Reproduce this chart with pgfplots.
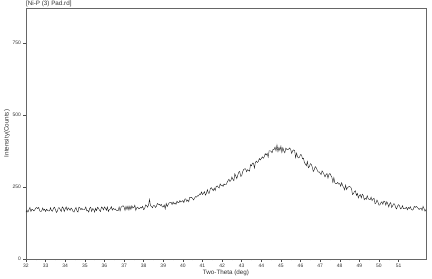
\documentclass[border=0pt]{standalone}
\usepackage{fontspec}
\setmainfont{Liberation Sans}
\usepackage{pgfplots}
\pgfplotsset{compat=1.18}
\begin{document}
\begin{tikzpicture}
\begin{axis}[
  scale only axis,
  width=400bp, height=251bp,
  xmin=32, xmax=52.4, ymin=0, ymax=872,
  xtick={32,33,...,51},
  ytick={0,250,500,750},
  minor x tick num=1,
  tick align=outside,
  xtick pos=bottom, ytick pos=left,
  major tick length=2.5bp, minor tick length=1.5bp,
  every tick/.style={black!70, line width=0.4pt},
  axis line style={black!60, line width=0.6pt},
  tick label style={font=\fontsize{5}{6}\selectfont, text=black!80},
  /pgf/number format/assume math mode=true,
  xticklabel style={yshift=1bp},
  yticklabel style={xshift=1bp},
  xlabel={Two-Theta (deg)},
  ylabel={Intensity(Counts)},
  label style={font=\fontsize{6.3}{7}\selectfont, text=black!80},
  xlabel style={yshift=4bp},
  ylabel style={yshift=-4bp},
  clip=false,
]
\addplot[black!90, line width=0.4pt] coordinates {
(32.00,163)(32.05,169)(32.10,163)(32.15,171)(32.20,179)(32.25,165)(32.30,173)(32.35,171)(32.40,167)(32.45,171)
(32.50,177)(32.55,179)(32.60,175)(32.65,179)(32.70,167)(32.75,165)(32.80,167)(32.85,177)(32.90,169)(32.95,173)
(33.00,165)(33.05,173)(33.10,169)(33.15,167)(33.20,167)(33.25,178)(33.30,168)(33.35,166)(33.40,176)(33.45,180)
(33.50,172)(33.55,162)(33.60,166)(33.65,178)(33.70,178)(33.75,171)(33.80,165)(33.85,181)(33.90,177)(33.95,165)
(34.00,175)(34.05,181)(34.10,169)(34.15,178)(34.20,174)(34.25,169)(34.30,177)(34.35,173)(34.40,165)(34.45,163)
(34.50,173)(34.55,179)(34.60,167)(34.65,163)(34.70,180)(34.75,177)(34.80,171)(34.85,176)(34.90,171)(34.95,171)
(35.00,173)(35.05,181)(35.10,167)(35.15,169)(35.20,163)(35.25,177)(35.30,180)(35.35,165)(35.40,175)(35.45,173)
(35.50,163)(35.55,176)(35.60,168)(35.65,180)(35.70,176)(35.75,169)(35.80,165)(35.85,181)(35.90,178)(35.95,171)
(36.00,181)(36.05,177)(36.10,169)(36.15,181)(36.20,165)(36.25,172)(36.30,174)(36.35,182)(36.40,170)(36.45,176)
(36.50,172)(36.55,174)(36.60,170)(36.65,168)(36.70,168)(36.75,181)(36.80,167)(36.85,180)(36.90,183)(36.95,185)
(37.00,181)(37.05,169)(37.10,183)(37.15,172)(37.20,184)(37.25,170)(37.30,184)(37.35,172)(37.40,185)(37.45,177)
(37.50,179)(37.55,187)(37.60,169)(37.65,178)(37.70,180)(37.75,174)(37.80,176)(37.85,180)(37.90,177)(37.95,183)
(38.00,171)(38.05,175)(38.10,188)(38.15,186)(38.20,180)(38.25,188)(38.30,207)(38.35,185)(38.40,183)(38.45,178)
(38.50,186)(38.55,186)(38.60,179)(38.65,183)(38.70,193)(38.75,190)(38.80,190)(38.85,186)(38.90,190)(38.95,181)
(39.00,181)(39.05,188)(39.10,174)(39.15,193)(39.20,182)(39.25,189)(39.30,195)(39.35,196)(39.40,197)(39.45,189)
(39.50,198)(39.55,191)(39.60,195)(39.65,190)(39.70,201)(39.75,196)(39.80,196)(39.85,203)(39.90,198)(39.95,200)
(40.00,203)(40.05,196)(40.10,208)(40.15,209)(40.20,200)(40.25,205)(40.30,199)(40.35,214)(40.40,213)(40.45,214)
(40.50,210)(40.55,205)(40.60,212)(40.65,217)(40.70,215)(40.75,220)(40.80,219)(40.85,226)(40.90,224)(40.95,233)
(41.00,224)(41.05,228)(41.10,234)(41.15,222)(41.20,228)(41.25,241)(41.30,229)(41.35,229)(41.40,244)(41.45,248)
(41.50,243)(41.55,237)(41.60,246)(41.65,238)(41.70,252)(41.75,254)(41.80,250)(41.85,247)(41.90,261)(41.95,255)
(42.00,257)(42.05,252)(42.10,261)(42.15,258)(42.20,258)(42.25,265)(42.30,272)(42.35,277)(42.40,269)(42.45,273)
(42.50,285)(42.55,277)(42.60,272)(42.65,296)(42.70,288)(42.75,279)(42.80,291)(42.85,302)(42.90,304)(42.95,287)
(43.00,289)(43.05,303)(43.10,311)(43.15,313)(43.20,313)(43.25,303)(43.30,310)(43.35,308)(43.40,305)(43.45,328)
(43.50,324)(43.55,333)(43.60,333)(43.65,316)(43.70,336)(43.75,340)(43.80,335)(43.85,339)(43.90,349)(43.95,344)
(44.00,349)(44.05,355)(44.10,350)(44.15,355)(44.20,366)(44.25,361)(44.30,367)(44.35,354)(44.40,376)(44.45,376)
(44.50,374)(44.55,369)(44.60,381)(44.65,380)(44.70,389)(44.75,376)(44.80,396)(44.85,373)(44.90,388)(44.95,377)
(45.00,392)(45.05,370)(45.10,387)(45.15,375)(45.20,369)(45.25,385)(45.30,381)(45.35,380)(45.40,382)(45.45,386)
(45.50,380)(45.55,367)(45.60,376)(45.65,379)(45.70,377)(45.75,352)(45.80,368)(45.85,355)(45.90,351)(45.95,354)
(46.00,363)(46.05,362)(46.10,348)(46.15,350)(46.20,335)(46.25,330)(46.30,324)(46.35,339)(46.40,317)(46.45,321)
(46.50,331)(46.55,329)(46.60,319)(46.65,304)(46.70,310)(46.75,321)(46.80,317)(46.85,309)(46.90,302)(46.95,303)
(47.00,298)(47.05,293)(47.10,306)(47.15,301)(47.20,294)(47.25,285)(47.30,293)(47.35,297)(47.40,281)(47.45,294)
(47.50,297)(47.55,290)(47.60,284)(47.65,266)(47.70,283)(47.75,265)(47.80,262)(47.85,262)(47.90,266)(47.95,260)
(48.00,262)(48.05,253)(48.10,265)(48.15,254)(48.20,249)(48.25,240)(48.30,257)(48.35,241)(48.40,248)(48.45,251)
(48.50,252)(48.55,250)(48.60,245)(48.65,224)(48.70,227)(48.75,234)(48.80,237)(48.85,221)(48.90,228)(48.95,212)
(49.00,221)(49.05,224)(49.10,212)(49.15,225)(49.20,221)(49.25,206)(49.30,211)(49.35,207)(49.40,220)(49.45,210)
(49.50,207)(49.55,206)(49.60,215)(49.65,203)(49.70,208)(49.75,211)(49.80,192)(49.85,195)(49.90,205)(49.95,198)
(50.00,187)(50.05,188)(50.10,195)(50.15,199)(50.20,190)(50.25,201)(50.30,200)(50.35,187)(50.40,199)(50.45,192)
(50.50,181)(50.55,192)(50.60,196)(50.65,179)(50.70,185)(50.75,192)(50.80,191)(50.85,179)(50.90,174)(50.95,184)
(51.00,189)(51.05,185)(51.10,174)(51.15,176)(51.20,185)(51.25,175)(51.30,175)(51.35,176)(51.40,180)(51.45,171)
(51.50,179)(51.55,175)(51.60,182)(51.65,172)(51.70,170)(51.75,172)(51.80,183)(51.85,179)(51.90,183)(51.95,180)
(52.00,176)(52.05,172)(52.10,176)(52.15,177)(52.20,169)(52.25,183)(52.30,175)(52.35,166)(52.40,172)
};
\node[anchor=base west, inner sep=0pt, font=\fontsize{6.3}{7}\selectfont, text=black!80] at (rel axis cs:0,1) [yshift=2.5bp] {[Ni-P (3) Pad.rd]};
\end{axis}
\pgfresetboundingbox
\path[use as bounding box] (current axis.south west) ++(-26bp,-20bp) rectangle ++(432bp,279bp);
\end{tikzpicture}
\end{document}
